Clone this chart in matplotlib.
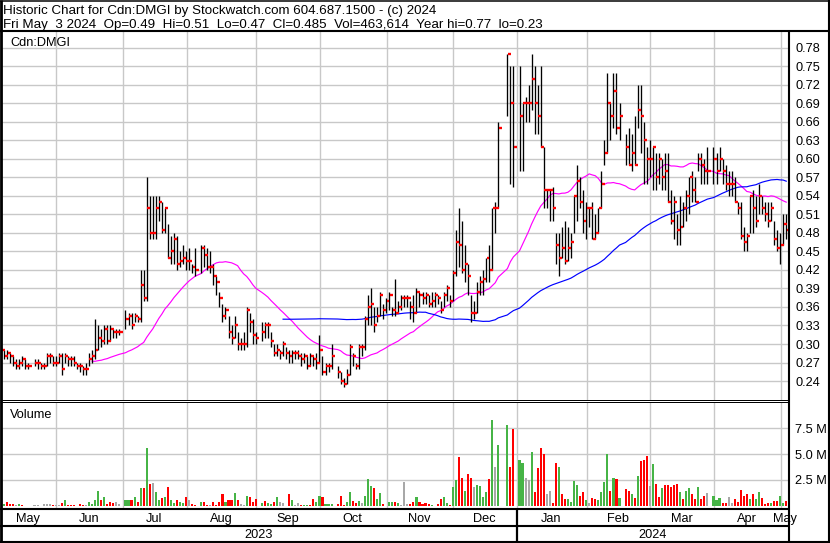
import numpy as np
import pandas as pd
import matplotlib
matplotlib.use("Agg")
import matplotlib.pyplot as plt

plt.rcParams['font.family'] = ['Liberation Sans', 'DejaVu Sans']

W, H = 830, 543

# ---------------- data ----------------
start_date = '2023-05-08'
end_date = '2024-05-03'

close = [
    .29, .28, .285, .28, .27, .265, .27, .275, .265, .265,
    None, .27, .27, .265, .265, .28, .28, .27, .27, .28,
    .26, .28, .275, .275, .27, .265, .265, .26, .26, .275,
    .28, .29, .31, .305, .325, .305, .325, .32, .32, .32,
    None, .34, .345, .33, .345, .34, .395, .375, .52, .48,
    .48, .52, .53, .485, .52, .44, .45, .47, .43, .435,
    .44, .435, .435, .425, .42, None, .455, .445, .425, .425,
    .41, .40, .375, .345, .355, .32, .31, .33, .30, .30,
    .30, .355, .335, .315, .31, None, .32, .33, .33, .305,
    .285, .29, .285, .30, .285, .28, .285, .285, .28, .275,
    .28, .265, .28, .275, .27, .29, .255, .265, .265, .28,
    None, .255, .24, .235, .25, .295, .28, .265, .295, .295,
    .34, .36, .365, .33, .345, .38, .355, .37, .38, .355,
    .35, .36, .375, .375, .375, .36, .35, .385, .38, .375,
    .38, .365, .37, .38, .375, .355, .38, .39, .37, .415,
    .465, .46, .42, .43, .41, .35, .35, .385, .40, .405,
    .44, .42, .52, .52, .65, None, None, .77, .69, .62,
    None, .67, .69, .69, .69, .73, .69, .67, .62, .55,
    .55, .55, .52, .46, .44, .455, .435, .455, .465, .54,
    .565, .53, .50, .52, .52, .47, .48, .52, .56, .61,
    .69, .67, .71, .65, .67, None, .62, .59, .61, .59,
    .68, .67, .63, .60, .60, .62, .57, .60, .57, .58,
    .53, .50, .53, .485, .49, .52, .54, .57, .55, .53,
    .60, .59, .58, .58, None, .60, .58, .60, .58, .56,
    .56, .56, .53, .52, .475, .465, .475, .54, .52, .50,
    .54, .52, .51, .50, .52, .47, .455, .46, .495, .485,
]

high = [
    .295, .29, .29, .285, .28, .275, .275, .28, .275, .27,
    None, .275, .275, .27, .27, .285, .285, .28, .28, .285,
    .285, .285, .28, .28, .28, .27, .27, .265, .27, .285,
    .29, .34, .33, .325, .33, .33, .33, .325, .325, .325,
    None, .355, .35, .35, .35, .345, .42, .42, .57, .54,
    .54, .54, .54, .53, .52, .495, .475, .48, .475, .45,
    .46, .45, .455, .43, .455, None, .46, .46, .455, .45,
    .43, .41, .385, .365, .36, .345, .33, .345, .32, .31,
    .32, .36, .35, .34, .32, None, .335, .335, .335, .32,
    .30, .30, .29, .305, .295, .29, .29, .29, .29, .285,
    .285, .28, .285, .28, .285, .315, .28, .27, .27, .30,
    None, .265, .255, .245, .26, .30, .285, .27, .30, .30,
    .345, .38, .39, .36, .36, .385, .365, .375, .385, .36,
    .405, .37, .38, .38, .38, .37, .38, .39, .385, .385,
    .385, .38, .385, .385, .38, .37, .385, .395, .38, .42,
    .485, .52, .50, .46, .43, .38, .37, .40, .41, .42,
    .44, .46, .52, .53, .66, None, None, .77, .75, .75,
    None, .75, .69, .70, .72, .77, .75, .72, .75, .62,
    .55, .55, .555, .48, .48, .49, .50, .49, .48, .54,
    .59, .57, .55, .53, .52, .53, .51, .52, .58, .63,
    .74, .69, .74, .74, .69, None, .64, .65, .64, .67,
    .72, .72, .66, .62, .63, .62, .61, .61, .60, .61,
    .61, .55, .54, .51, .54, .53, .55, .57, .58, .57,
    .61, .61, .60, .62, None, .62, .61, .62, .60, .59,
    .58, .58, .57, .53, .53, .49, .48, .54, .55, .54,
    .56, .54, .53, .53, .53, .50, .485, .48, .51, .51,
]

low = [
    .28, .275, .275, .27, .265, .26, .26, .265, .26, .26,
    None, .265, .26, .26, .26, .265, .27, .265, .265, .27,
    .25, .27, .265, .265, .265, .26, .255, .25, .25, .265,
    .27, .275, .29, .295, .30, .30, .305, .31, .31, .315,
    None, .325, .33, .325, .335, .335, .335, .37, .37, .47,
    .47, .47, .50, .48, .48, .44, .43, .43, .42, .425,
    .43, .42, .42, .415, .41, None, .415, .425, .42, .415,
    .395, .38, .36, .335, .34, .31, .30, .31, .29, .29,
    .29, .295, .32, .30, .30, None, .305, .31, .31, .295,
    .28, .28, .275, .28, .275, .27, .27, .275, .275, .265,
    .27, .26, .265, .265, .26, .27, .25, .25, .255, .26,
    None, .245, .235, .23, .235, .25, .265, .26, .26, .28,
    .29, .33, .33, .32, .335, .345, .34, .35, .355, .345,
    .345, .35, .355, .36, .36, .34, .335, .35, .36, .365,
    .365, .36, .36, .36, .365, .35, .36, .37, .36, .37,
    .41, .425, .415, .40, .38, .335, .34, .35, .38, .38,
    .40, .40, .42, .48, .52, None, None, .67, .56, .555,
    None, .58, .58, .66, .66, .68, .64, .64, .62, .52,
    .52, .50, .50, .43, .41, .44, .43, .435, .44, .48,
    .50, .52, .48, .47, .49, .47, .47, .48, .52, .59,
    .61, .63, .65, .64, .63, None, .59, .59, .58, .59,
    .65, .61, .56, .56, .57, .55, .55, .56, .55, .55,
    .53, .495, .47, .46, .46, .49, .50, .51, .53, .53,
    .58, .56, .56, .56, None, .56, .56, .58, .56, .55,
    .54, .54, .53, .51, .47, .45, .45, .48, .48, .49,
    .51, .51, .50, .49, .50, .46, .45, .43, .46, .47,
]

# daily volume, millions of shares
volume_m = [
    .13, .2, .4, .15, .15, .1, .15, .1, 0, 0,
    0, .08, .08, 0, .22, .15, .22, .06, .13, .06,
    .32, .52, .06, .06, .06, 0, .16, .06, .06, .39,
    .16, .61, 1.4, .55, .81, .22, .39, .32, .39, .22,
    0, .61, .61, .61, .87, .39, 1.68, 1.68, 5.6, 2.07,
    2.2, 1.35, .61, .78, .87, 1.78, .61, .32, .61, .39,
    .32, .87, .61, .22, .06, 0, .39, .39, .13, .13,
    .39, .13, .39, 1.1, .39, .61, .55, 1.2, .61, .16,
    .06, .97, .81, .39, .71, 0, .29, .48, .29, .16,
    .39, .87, .39, .29, 0, 1.1, .61, .06, .29, .13,
    .13, .13, .06, .71, .39, .97, .81, .22, .16, .22,
    0, .22, .97, .13, .39, 1.35, .48, .29, .48, .29,
    .97, 2.55, 1.94, 1.7, .71, 1.2, .22, .02, .39, .39,
    .39, .29, .06, 2.3, .22, .22, .39, .87, .39, .16,
    .26, .16, .06, 0, .16, .65, .81, .32, .06, 1.8,
    2.5, 4.7, 2.7, 1.45, 3.1, 2.7, 1.8, 2.0, 1.9, .9,
    1.3, 2.6, 8.3, 3.8, 5.9, 0, 0, 7.8, 3.8, 7.4,
    0, 4.4, 4.1, 2.7, 2.5, 5.2, 1.35, 3.65, 5.6, 5.0,
    1.1, 1.45, .26, 4.1, 3.8, 1.1, .65, .65, .42, 2.4,
    2.0, 1.0, 1.35, .55, .32, .74, .65, .55, 1.3, 2.3,
    5.0, 1.45, 2.7, 2.6, .74, 0, 1.6, 1.45, 1.16, .8,
    2.85, 4.3, 4.4, 4.8, 1.9, 4.0, 2.1, .9, 1.7, 2.0,
    2.0, 1.85, 2.0, 2.1, 1.35, .7, 1.4, 1.7, 1.1, .65,
    1.8, .65, 1.0, 1.2, 0, 1.0, .55, .74, .32, .32,
    .9, .26, .65, .42, 1.5, 1.0, 1.1, .65, 1.1, .65,
    1.3, .74, .16, .32, .23, .48, .48, 1.0, .32, .46,
]

# u = up day, d = down day, n = unchanged, - = no trade
vol_dir = "".join([
    "nudddnud--", "-nn-nnndnn", "duddd-ddnu", "uuududddnn", "-uudududud",
    "nuududuudu", "udndd-uddn", "dddduddudn", "nuddd-uduu", "dunn-dunnd",
    "uudduuduuu", "-ddduuddun", "uuuduudnuu", "dunnnddudd", "ddu-dduudu",
    "udduddnuuu", "udunu--udd", "-uunnudddd", "nnddudduuu", "uddundduuu",
    "ududu-ddud", "udddnuddud", "dddduduudd", "uddn-uuudd", "nndddddudu",
    "udddudduud",
])

ma_short = 30
ma_long = 90

price_ticks = [0.24, 0.27, 0.30, 0.33, 0.36, 0.39, 0.42, 0.45, 0.48, 0.51,
               0.54, 0.57, 0.60, 0.63, 0.66, 0.69, 0.72, 0.75, 0.78]
volume_ticks = [2.5, 5.0, 7.5]
volume_tick_labels = ['2.5 M', '5.0 M', '7.5 M']

header1 = "Historic Chart for Cdn:DMGI by Stockwatch.com 604.687.1500 - (c) 2024"
header2 = ("Fri May  3 2024  Op=0.49  Hi=0.51  Lo=0.47  Cl=0.485  "
           "Vol=463,614  Year hi=0.77  lo=0.23")
symbol = "Cdn:DMGI"
volume_title = "Volume"

# ---------------- styling ----------------
GRID = '#c8c8c8'
TICK_RED = '#ff0000'
VOL_COLORS = {'u': '#46b446', 'd': '#ff0000', 'n': '#a8a8a8'}
MA_SHORT_C = '#ff00ff'
MA_LONG_C = '#0000ff'
FS = 9.2

dates = pd.bdate_range(start_date, end_date)
N = len(dates)
assert N == len(close) == len(high) == len(low) == len(volume_m) == len(vol_dir)
idx = np.arange(N)
c = np.array(close, dtype=float)
h = np.array(high, dtype=float)
l = np.array(low, dtype=float)
v = np.array(volume_m, dtype=float)

# pixel layout helpers
X_LEFT, X_RIGHT = 1, 789
PX0, DPX = 1.2, 3.031   # pixel of bar 0, pixels per weekday
xlim = ((X_LEFT - PX0) / DPX, (X_RIGHT - PX0) / DPX)


def rect(top, bottom, left=X_LEFT, right=X_RIGHT):
    return [left / W, 1 - bottom / H, (right - left) / W, (bottom - top) / H]


fig = plt.figure(figsize=(W / 100, H / 100), dpi=100, facecolor='white')

ax_p = fig.add_axes(rect(32, 400))
ax_v = fig.add_axes(rect(403, 508))
ax_m = fig.add_axes(rect(509, 526))
ax_y = fig.add_axes(rect(527, 541))
for ax in (ax_p, ax_v, ax_m, ax_y):
    ax.set_xlim(*xlim)
    for s in ax.spines.values():
        s.set_visible(False)
    ax.set_facecolor('white')
    ax.tick_params(left=False, bottom=False, labelbottom=False, labelleft=False,
                   right=False, top=False)

# month boundaries
months = dates.to_period('M')
starts = [i for i in range(N) if i == 0 or months[i] != months[i - 1]]
grid_starts = starts[1:]

# ---------------- price panel ----------------
ax_p.set_ylim(0.2092, 0.8059)
for t in price_ticks:
    ax_p.axhline(t, color=GRID, lw=1.0, zorder=0)
for s in grid_starts:
    ax_p.axvline(s + 0.15, color=GRID, lw=1.0, zorder=0)

ok = ~np.isnan(c)
ax_p.vlines(idx[ok], l[ok], h[ok], color='black', lw=0.95, zorder=3)
ax_p.hlines(c[ok], idx[ok] + 0.12, idx[ok] + 1.1, color=TICK_RED, lw=1.7,
            zorder=4)

cs = pd.Series(c).dropna()
ma1 = cs.rolling(ma_short).mean().dropna()
ma2 = cs.rolling(ma_long).mean().dropna()
ax_p.plot(ma1.index, ma1.values, color=MA_SHORT_C, lw=0.85, zorder=2)
ax_p.plot(ma2.index, ma2.values, color=MA_LONG_C, lw=0.85, zorder=2)

ax_p.yaxis.tick_right()
ax_p.set_yticks(price_ticks)
ax_p.set_yticklabels([f"{t:.2f}" for t in price_ticks], fontsize=FS)
ax_p.tick_params(axis='y', right=False, labelright=True, length=0, pad=4.5)
ax_p.text(9 / (X_RIGHT - X_LEFT), 1 - (46 - 32) / 368, symbol,
          transform=ax_p.transAxes, fontsize=FS, va='baseline', ha='left')

# ---------------- volume panel ----------------
ax_v.set_ylim(-0.208, 9.947)
for t in volume_ticks:
    ax_v.axhline(t, color=GRID, lw=1.0, zorder=0)
for s in grid_starts:
    ax_v.axvline(s + 0.15, color=GRID, lw=1.0, zorder=0)
cols = [VOL_COLORS.get(d, 'white') for d in vol_dir]
has = np.array([d in VOL_COLORS for d in vol_dir]) & (v > 0)
ax_v.bar(idx[has], v[has], width=0.7, color=[cols[i] for i in idx[has]],
         align='center', zorder=3, linewidth=0)
ax_v.yaxis.tick_right()
ax_v.set_yticks(volume_ticks)
ax_v.set_yticklabels(volume_tick_labels, fontsize=FS)
ax_v.tick_params(axis='y', right=False, labelright=True, length=0, pad=4.5)
ax_v.text(9 / (X_RIGHT - X_LEFT), 1 - (417.7 - 403) / 105, volume_title,
          transform=ax_v.transAxes, fontsize=FS, va='baseline', ha='left')

# ---------------- month and year rows ----------------
ax_m.set_ylim(0, 1)
bounds = starts + [xlim[1]]
for k, s in enumerate(starts):
    left_b = xlim[0] if k == 0 else s
    mid = (left_b + bounds[k + 1]) / 2
    ax_m.text(mid, 0.22, dates[s].strftime('%b'), fontsize=FS, ha='center',
              va='baseline', clip_on=False)

ax_y.set_ylim(0, 1)
years = dates.year
ystarts = [i for i in range(N) if i == 0 or years[i] != years[i - 1]]
ybounds = [xlim[0]] + ystarts[1:] + [xlim[1]]
for k, s in enumerate(ystarts):
    mid = (ybounds[k] + ybounds[k + 1]) / 2
    ax_y.text(mid, 0.18, str(years[s]), fontsize=FS, ha='center', va='baseline')
for s in ystarts[1:]:
    ax_m.axvline(s + 0.15, color='black', lw=1.6)
    ax_y.axvline(s + 0.15, color='black', lw=1.6)

# ---------------- frame & header overlay ----------------
ov = fig.add_axes([0, 0, 1, 1], zorder=10)
ov.set_xlim(0, W)
ov.set_ylim(H, 0)
ov.axis('off')
k = 0.72  # points per pixel


def frame(xs, ys, px):
    ov.plot(xs, ys, color='black', lw=px * k, solid_capstyle='butt')


frame([0, W], [0.8, 0.8], 1.5)
frame([1.2, 1.2], [0, H], 2.8)
frame([828.5, 828.5], [0, H], 2.1)
frame([0, W], [31.2, 31.2], 2.1)
frame([0, W], [541.8, 541.8], 2.1)
frame([789.3, 789.3], [31, H], 2.1)
frame([0, 789.3], [400.3, 400.3], 1.0)
frame([0, 789.3], [402.3, 402.3], 1.0)
frame([0, 789.3], [508.6, 508.6], 2.1)
frame([0, 789.3], [526.0, 526.0], 2.1)

ov.text(3, 14, header1, fontsize=9.6, ha='left', va='baseline')
ov.text(3, 28.3, header2, fontsize=9.6, ha='left', va='baseline')

fig.savefig('out.png', dpi=100, facecolor='white')
